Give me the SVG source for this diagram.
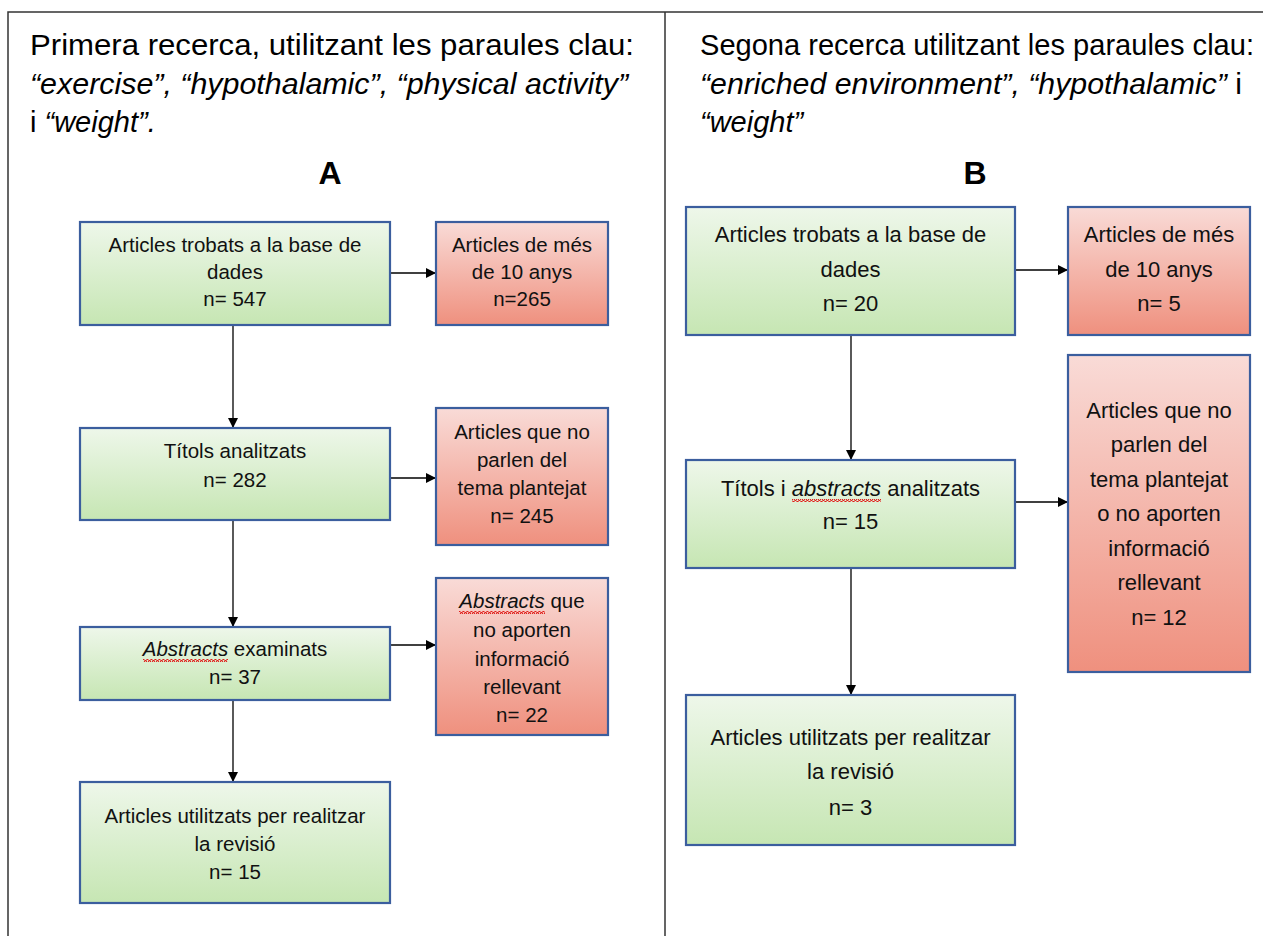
<svg xmlns="http://www.w3.org/2000/svg" width="1263" height="936" viewBox="0 0 1263 936">
<style>
.hdr{font-family:"Liberation Sans",Arial,sans-serif;font-size:29px;fill:#000}
.it{font-style:italic}
.big{font-family:"Liberation Sans",Arial,sans-serif;font-size:32px;font-weight:bold;text-anchor:middle;fill:#000}
.ta{font-family:"Liberation Sans",Arial,sans-serif;font-size:20.5px;text-anchor:middle;fill:#111}
.tb{font-family:"Liberation Sans",Arial,sans-serif;font-size:22px;text-anchor:middle;fill:#111}
.g{fill:url(#gGreen);stroke:#3B5E9E;stroke-width:2.2}
.r{fill:url(#gRed);stroke:#3B5E9E;stroke-width:2.2}
.frame{stroke:#333;stroke-width:1.5;fill:none}
.edge{stroke:#000;stroke-width:1.3;fill:none;marker-end:url(#arr)}
.wavy{fill:url(#wave)}
</style>
<defs>
<linearGradient id="gGreen" x1="0" y1="0" x2="0" y2="1">
<stop offset="0" stop-color="#EEF7EA"/>
<stop offset="1" stop-color="#C6E6B3"/>
</linearGradient>
<linearGradient id="gRed" x1="0" y1="0" x2="0" y2="1">
<stop offset="0" stop-color="#F9DBD7"/>
<stop offset="1" stop-color="#EF907E"/>
</linearGradient>
<marker id="arr" viewBox="0 0 10 10" refX="10" refY="5" markerWidth="10" markerHeight="10" markerUnits="userSpaceOnUse" orient="auto">
<path d="M0,0 L10,5 L0,10 Z" fill="#000"/>
</marker>
<pattern id="wave" x="0" y="0" width="4" height="3" patternUnits="userSpaceOnUse">
<polyline points="0,2.5 1,0.5 2,0.5 3,2.5 4,2.5" fill="none" stroke="#E0201C" stroke-width="1.1"/>
</pattern>
</defs>
<rect x="0" y="0" width="1263" height="936" fill="#fff"/>
<g id="frame">
<path class="frame" d="M8,936 V12 H1263 M665,12 V936"/>
</g>
<g id="headerA">
<text class="hdr" x="30" y="55" textLength="604" lengthAdjust="spacingAndGlyphs">Primera recerca, utilitzant les paraules clau:</text>
<text class="hdr it" x="30" y="94" textLength="598" lengthAdjust="spacingAndGlyphs">“exercise”, “hypothalamic”, “physical activity”</text>
<text class="hdr" x="30" y="132">i <tspan class="it">“weight”.</tspan></text>
<text class="big" x="330" y="184">A</text>
</g>
<g id="headerB">
<text class="hdr" x="700" y="55" textLength="554" lengthAdjust="spacingAndGlyphs">Segona recerca utilitzant les paraules clau:</text>
<text class="hdr" x="700" y="94" textLength="542" lengthAdjust="spacingAndGlyphs"><tspan class="it">“enriched environment”, “hypothalamic”</tspan> i</text>
<text class="hdr it" x="700" y="132">“weight”</text>
<text class="big" x="975" y="184">B</text>
</g>
<g id="connectors">
<line class="edge" x1="233" y1="325" x2="233" y2="428"/>
<line class="edge" x1="233" y1="520" x2="233" y2="627"/>
<line class="edge" x1="233" y1="700" x2="233" y2="782"/>
<line class="edge" x1="390" y1="273" x2="436" y2="273"/>
<line class="edge" x1="390" y1="478" x2="436" y2="478"/>
<line class="edge" x1="390" y1="645" x2="436" y2="645"/>
<line class="edge" x1="851" y1="335" x2="851" y2="460"/>
<line class="edge" x1="851" y1="568" x2="851" y2="695"/>
<line class="edge" x1="1015" y1="270" x2="1068" y2="270"/>
<line class="edge" x1="1015" y1="502" x2="1068" y2="502"/>
</g>
<g id="a1">
<rect class="g" x="80" y="222" width="310" height="103"/>
<text class="ta" x="235" y="252">Articles trobats a la base de</text>
<text class="ta" x="235" y="279">dades</text>
<text class="ta" x="235" y="306">n= 547</text>
</g>
<g id="a1x">
<rect class="r" x="436" y="222" width="172" height="103"/>
<text class="ta" x="522" y="252">Articles de més</text>
<text class="ta" x="522" y="279">de 10 anys</text>
<text class="ta" x="522" y="306">n=265</text>
</g>
<g id="a2">
<rect class="g" x="80" y="428" width="310" height="92"/>
<text class="ta" x="235" y="458">Títols analitzats</text>
<text class="ta" x="235" y="487">n= 282</text>
</g>
<g id="a2x">
<rect class="r" x="436" y="408" width="172" height="137"/>
<text class="ta" x="522" y="439">Articles que no</text>
<text class="ta" x="522" y="467">parlen del</text>
<text class="ta" x="522" y="495">tema plantejat</text>
<text class="ta" x="522" y="523">n= 245</text>
</g>
<g id="a3">
<rect class="g" x="80" y="627" width="310" height="73"/>
<text class="ta" x="235" y="656"><tspan class="it">Abstracts</tspan> examinats</text>
<rect class="wavy" x="143" y="659" width="85" height="3"/>
<text class="ta" x="235" y="684">n= 37</text>
</g>
<g id="a3x">
<rect class="r" x="436" y="578" width="172" height="157"/>
<text class="ta" x="522" y="608"><tspan class="it">Abstracts</tspan> que</text>
<rect class="wavy" x="459" y="611" width="86" height="3"/>
<text class="ta" x="522" y="637">no aporten</text>
<text class="ta" x="522" y="666">informació</text>
<text class="ta" x="522" y="694">rellevant</text>
<text class="ta" x="522" y="722">n= 22</text>
</g>
<g id="a4">
<rect class="g" x="80" y="782" width="310" height="121"/>
<text class="ta" x="235" y="823">Articles utilitzats per realitzar</text>
<text class="ta" x="235" y="851">la revisió</text>
<text class="ta" x="235" y="879">n= 15</text>
</g>
<g id="b1">
<rect class="g" x="686" y="207" width="329" height="128"/>
<text class="tb" x="850.5" y="242">Articles trobats a la base de</text>
<text class="tb" x="850.5" y="277">dades</text>
<text class="tb" x="850.5" y="311">n= 20</text>
</g>
<g id="b1x">
<rect class="r" x="1068" y="207" width="182" height="128"/>
<text class="tb" x="1159" y="242">Articles de més</text>
<text class="tb" x="1159" y="277">de 10 anys</text>
<text class="tb" x="1159" y="311">n= 5</text>
</g>
<g id="b2">
<rect class="g" x="686" y="460" width="329" height="108"/>
<text class="tb" x="850.5" y="496">Títols i <tspan class="it">abstracts</tspan> analitzats</text>
<rect class="wavy" x="792" y="499" width="89" height="3"/>
<text class="tb" x="850.5" y="529">n= 15</text>
</g>
<g id="b2x">
<rect class="r" x="1068" y="355" width="182" height="317"/>
<text class="tb" x="1159" y="418">Articles que no</text>
<text class="tb" x="1159" y="452">parlen del</text>
<text class="tb" x="1159" y="487">tema plantejat</text>
<text class="tb" x="1159" y="521">o no aporten</text>
<text class="tb" x="1159" y="556">informació</text>
<text class="tb" x="1159" y="590">rellevant</text>
<text class="tb" x="1159" y="625">n= 12</text>
</g>
<g id="b3">
<rect class="g" x="686" y="695" width="329" height="150"/>
<text class="tb" x="850.5" y="745">Articles utilitzats per realitzar</text>
<text class="tb" x="850.5" y="779">la revisió</text>
<text class="tb" x="850.5" y="815">n= 3</text>
</g>
</svg>
